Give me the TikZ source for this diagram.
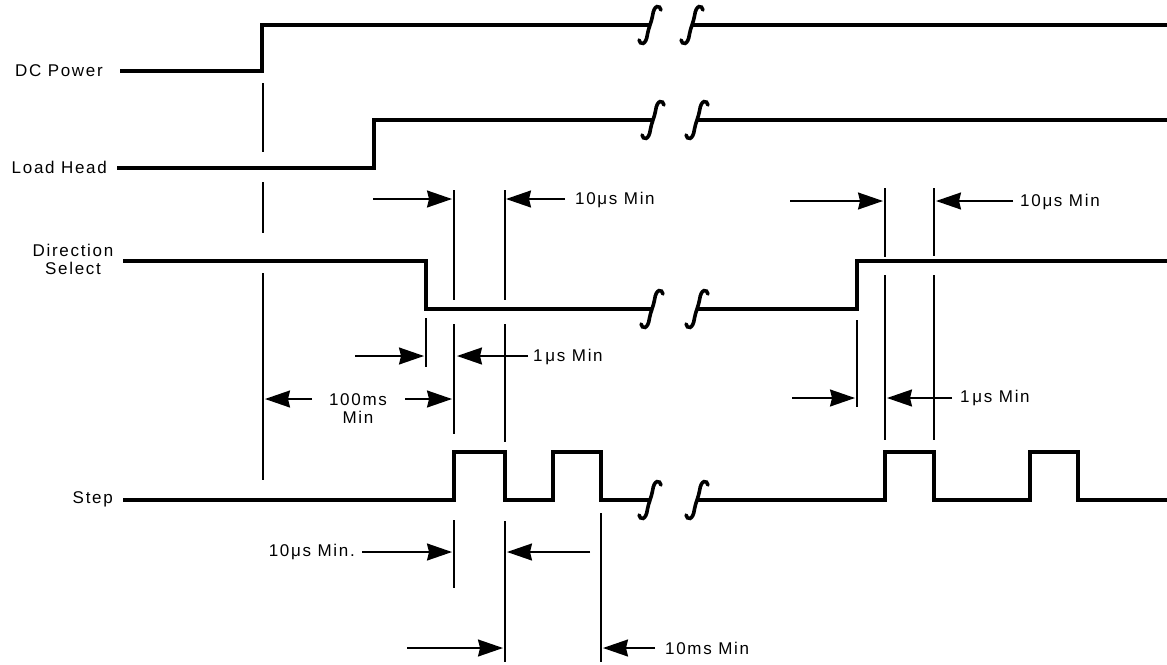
\documentclass[tikz,border=0pt]{standalone}
\usepackage{fontspec}
\setmainfont{Liberation Sans}[LetterSpace=10]
\usetikzlibrary{arrows.meta}
\begin{document}
\begin{tikzpicture}[x=1pt,y=-1pt,
  wave/.style={line width=3.4pt,line join=miter},
  guide/.style={line width=1.8pt},
  dim/.style={line width=1.7pt,-{Stealth[length=25pt,width=17pt,inset=2pt]}},
  lbl/.style={inner sep=0pt,font=\fontsize{17}{18}\selectfont},
  brk/.pic={\draw[line width=3.6pt,line cap=round] (-11,15) .. controls (-10,20) and (-4,21) .. (-2.5,9) .. controls (-1.5,3) and (1.5,-3) .. (2.5,-9) .. controls (4,-21) and (10,-20) .. (11,-15);}]
\useasboundingbox (0,0) rectangle (1167,664);
% labels
\node[lbl,anchor=east] (dc) at (103,71) {DC Power};
\node[lbl,anchor=east] (lh) at (107,167) {Load Head};
\node[lbl,align=center] (ds) at (73,259) {Direction\\Select};
\node[lbl,anchor=east] (st) at (113,499) {Step};
% waveforms
\draw[wave] (120,71) -- (262,71) -- (262,25) -- (650,25);
\draw[wave] (692,25) -- (1167,25);
\pic at (650,25) {brk}; \pic at (692,25) {brk};
\draw[wave] (117,168) -- (374,168) -- (374,120) -- (653,120);
\draw[wave] (697,120) -- (1167,120);
\pic at (653,120) {brk}; \pic at (697,120) {brk};
\draw[wave] (123,261) -- (426,261) -- (426,309) -- (652,309);
\draw[wave] (697,309) -- (857,309) -- (857,261) -- (1167,261);
\pic at (652,309) {brk}; \pic at (697,309) {brk};
\draw[wave] (123,500) -- (454,500) -- (454,452) -- (505,452) -- (505,500) -- (553,500) -- (553,452) -- (601,452) -- (601,500) -- (650,500);
\draw[wave] (697,500) -- (885,500) -- (885,452) -- (934,452) -- (934,500) -- (1030,500) -- (1030,452) -- (1078,452) -- (1078,500) -- (1167,500);
\pic at (650,500) {brk}; \pic at (697,500) {brk};
% guide lines
\draw[guide] (263,83) -- (263,152);
\draw[guide] (263,182) -- (263,233);
\draw[guide] (263,273) -- (263,480);
\draw[guide] (454,190) -- (454,300);
\draw[guide] (454,324) -- (454,434);
\draw[guide] (454,520) -- (454,588);
\draw[guide] (426,318) -- (426,367);
\draw[guide] (505,190) -- (505,300);
\draw[guide] (505,324) -- (505,442);
\draw[guide] (505,521) -- (505,662);
\draw[guide] (601,513) -- (601,662);
\draw[guide] (857,320) -- (857,407);
\draw[guide] (885,188) -- (885,257);
\draw[guide] (885,275) -- (885,440);
\draw[guide] (934,188) -- (934,256);
\draw[guide] (934,275) -- (934,440);
% dimension labels
\node[lbl,anchor=west] (a1) at (575,200) {10μs Min};
\node[lbl,anchor=west] (a2) at (1020,202) {10μs Min};
\node[lbl,anchor=west] (b1) at (533,357) {1\,μs Min};
\node[lbl,anchor=west] (b2) at (960,398) {1\,μs Min};
\node[lbl,align=center] (c1) at (358,409) {100ms\\Min};
\node[lbl,anchor=east] (d1) at (355,552) {10μs Min.};
\node[lbl,anchor=west] (e1) at (665,648) {10ms Min};
% arrows
\draw[dim] (373,199) -- (452,199);
\draw[dim] (a1.west)++(-10,-1) -- (506,199);
\draw[dim] (790,201) -- (883,201);
\draw[dim] (a2.west)++(-7,-1) -- (936,201);
\draw[dim] (355,356) -- (424,356);
\draw[dim] (b1.west)++(-5,-1) -- (457,356);
\draw[dim] (312,399) -- (265,399);
\draw[dim] (405,399) -- (452,399);
\draw[dim] (792,398) -- (855,398);
\draw[dim] (b2.west)++(-8,0) -- (887,398);
\draw[dim] (d1.east)++(7,0) -- (452,552);
\draw[dim] (590,552) -- (507,552);
\draw[dim] (407,648) -- (503,648);
\draw[dim] (e1.west)++(-10,0) -- (603,648);
\end{tikzpicture}
\end{document}
